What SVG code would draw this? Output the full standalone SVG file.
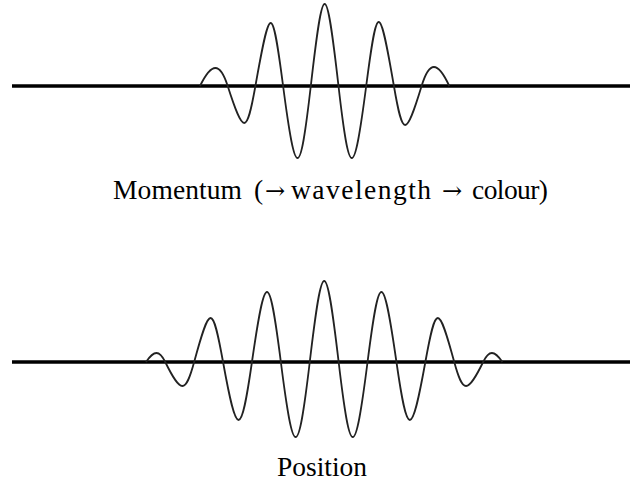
<svg xmlns="http://www.w3.org/2000/svg" width="630" height="481" viewBox="0 0 630 481">
<style>
.axis{stroke:#000;stroke-width:3.5;fill:none}
.wave{stroke:#222;stroke-width:1.8;fill:none;stroke-linejoin:round}
.lbl{font-family:"Liberation Serif","Times New Roman",serif;font-size:27.5px;fill:#000}
.arr{font-family:"DejaVu Serif","Liberation Serif",serif;font-size:24px}
</style>
<rect width="630" height="481" fill="#fff"/>
<g id="momentum">
<line class="axis" x1="12" y1="86" x2="630" y2="86"/>
<path class="wave" d="M200,86 C211.76,62 220,62 227.7,86 C243.52,135.33 246.7,135.33 255.4,86 C270.22,2 272.12,2 283.1,86 C295.64,182 299.8,182 310.8,86 C323.32,-23.33 325.98,-23.33 338.5,86 C349.5,182 353.75,182 366.2,86 C377.27,0.67 379.29,0.67 393.9,86 C402.81,138 405.78,138 421.6,86 C429.3,60.67 437.54,60.67 449.3,86"/>
<text class="lbl" y="199"><tspan x="113" textLength="129">Momentum</tspan><tspan x="254">(</tspan><tspan class="arr" x="265">→</tspan><tspan x="291" textLength="140">wavelength</tspan><tspan class="arr" x="442">→</tspan><tspan x="472" textLength="76">colour)</tspan></text>
</g>
<g id="position">
<line class="axis" x1="12" y1="362" x2="630" y2="362"/>
<path class="wave" d="M146,362 C154.17,350 159.37,350 165.25,362 C180.94,394 185.49,394 194.15,362 C210.02,303.33 212.47,303.33 223.05,362 C237,439.33 240.83,439.33 251.95,362 C265.37,268.67 269.01,268.67 280.85,362 C293.54,462 297.96,462 309.75,362 C322.49,254 325.91,254 338.65,362 C350.44,462 354.86,462 367.55,362 C379.39,268.67 383.03,268.67 396.45,362 C407.57,439.33 411.4,439.33 425.35,362 C435.93,303.33 438.38,303.33 454.25,362 C462.91,394 467.46,394 483.15,362 C489.04,350 494.23,350 502.4,362"/>
<text class="lbl" x="277" y="476" textLength="90" lengthAdjust="spacing">Position</text>
</g>
</svg>
